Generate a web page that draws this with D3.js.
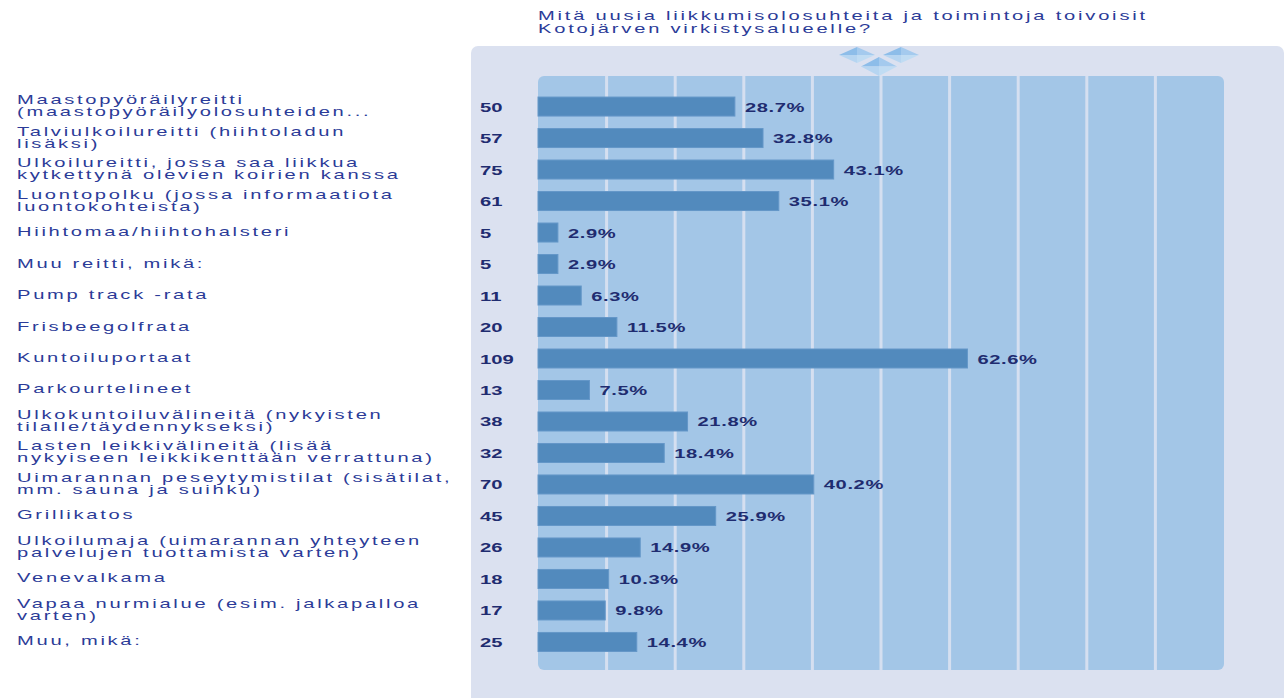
<!DOCTYPE html>
<html>
<head>
<meta charset="utf-8">
<script src="https://cdn.jsdelivr.net/npm/d3@7"></script>
<style>
  html, body { margin: 0; padding: 0; background: #ffffff; }
  svg { display: block; }
</style>
</head>
<body>
<div id="chart"></div>
<script>
// chart data
var titleLines = ['Mitä uusia liikkumisolosuhteita ja toimintoja toivoisit',
                  'Kotojärven virkistysalueelle?'];
var categories = [
  ['Maastopyöräilyreitti', '(maastopyöräilyolosuhteiden...'],
  ['Talviulkoilureitti (hiihtoladun', 'lisäksi)'],
  ['Ulkoilureitti, jossa saa liikkua', 'kytkettynä olevien koirien kanssa'],
  ['Luontopolku (jossa informaatiota', 'luontokohteista)'],
  ['Hiihtomaa/hiihtohalsteri'],
  ['Muu reitti, mikä:'],
  ['Pump track -rata'],
  ['Frisbeegolfrata'],
  ['Kuntoiluportaat'],
  ['Parkourtelineet'],
  ['Ulkokuntoiluvälineitä (nykyisten', 'tilalle/täydennykseksi)'],
  ['Lasten leikkivälineitä (lisää', 'nykyiseen leikkikenttään verrattuna)'],
  ['Uimarannan peseytymistilat (sisätilat,', 'mm. sauna ja suihku)'],
  ['Grillikatos'],
  ['Ulkoilumaja (uimarannan yhteyteen', 'palvelujen tuottamista varten)'],
  ['Venevalkama'],
  ['Vapaa nurmialue (esim. jalkapalloa', 'varten)'],
  ['Muu, mikä:']
];
var counts   = [50, 57, 75, 61, 5, 5, 11, 20, 109, 13, 38, 32, 70, 45, 26, 18, 17, 25];
var percents = [28.7, 32.8, 43.1, 35.1, 2.9, 2.9, 6.3, 11.5, 62.6, 7.5, 21.8, 18.4, 40.2, 25.9, 14.9, 10.3, 9.8, 14.4];

var W = 1288, H = 698;
var STRETCH = 1.55;   // text in the original is drawn wide

var svg = d3.select('#chart').append('svg')
  .attr('width', W).attr('height', H);

var x = d3.scaleLinear().domain([0, 100]).range([538, 1224]);
var y = d3.scaleBand().domain(d3.range(categories.length))
  .range([90.75, 657.75]).paddingInner(0.397).paddingOuter(0.2);

// text helper: wide glyphs via horizontal scale
function wideText(g, tx, ty, str, opt) {
  var t = g.append('g')
    .attr('transform', 'translate(' + tx + ',' + ty + ') scale(' + (opt.sx || STRETCH) + ',1)')
    .append('text')
    .attr('x', 0).attr('y', 0)
    .attr('font-family', 'Liberation Sans, Arial, sans-serif')
    .attr('font-size', opt.size + 'px')
    .attr('font-weight', opt.bold ? 'bold' : 'normal')
    .attr('letter-spacing', (opt.ls || 0) + 'px')
    .attr('fill', opt.color)
    .text(str);
  return t;
}

// outer panel
svg.append('rect')
  .attr('x', 471).attr('y', 46).attr('width', 813 + 20).attr('height', 700)
  .attr('rx', 7).attr('fill', '#dbe1f0');
svg.append('rect')
  .attr('x', 1270).attr('y', 46).attr('width', 30).attr('height', 700)
  .attr('fill', '#ffffff');
svg.append('rect')
  .attr('x', 1250).attr('y', 46).attr('width', 34).attr('height', 700)
  .attr('rx', 7).attr('fill', '#dbe1f0');

// logo diamonds (drawn under the plot area)
var diamonds = [[857, 55, 18, 8], [901, 55, 18, 8], [879, 66.5, 18, 9.5]];
var shades = ['#8dbde9', '#a4caee', '#b6d5f1', '#c0dcf3'];
var lg = svg.append('g');
diamonds.forEach(function (d) {
  var cx = d[0], cy = d[1], hw = d[2], hh = d[3];
  var tris = [
    [[cx - hw, cy], [cx, cy - hh], [cx, cy]],
    [[cx, cy - hh], [cx + hw, cy], [cx, cy]],
    [[cx - hw, cy], [cx, cy + hh], [cx, cy]],
    [[cx + hw, cy], [cx, cy + hh], [cx, cy]]
  ];
  tris.forEach(function (p, i) {
    lg.append('path').attr('d', 'M' + p.join('L') + 'Z').attr('fill', shades[i]);
  });
});

// plot area
svg.append('rect')
  .attr('x', x(0)).attr('y', 76)
  .attr('width', x(100) - x(0)).attr('height', 670 - 76)
  .attr('rx', 6).attr('fill', '#a3c6e7');

svg.append('g').selectAll('line')
  .data(d3.range(10, 100, 10))
  .enter().append('line')
  .attr('x1', function (d) { return x(d); })
  .attr('x2', function (d) { return x(d); })
  .attr('y1', 76).attr('y2', 670)
  .attr('stroke', '#d5dff0').attr('stroke-width', 3);

// bars
svg.append('g').selectAll('rect')
  .data(percents)
  .enter().append('rect')
  .attr('x', x(0))
  .attr('y', function (d, i) { return y(i); })
  .attr('width', function (d) { return x(d) - x(0); })
  .attr('height', y.bandwidth())
  .attr('fill', '#528abd')
  .attr('stroke', '#6497c8').attr('stroke-width', 1);

// title
var tg = svg.append('g');
titleLines.forEach(function (s, i) {
  wideText(tg, 538, 20 + i * 13, s, { size: 13, ls: 1.8, color: '#2b3b98' });
});

// category labels, counts, percents
var lab = svg.append('g');
categories.forEach(function (lines, i) {
  var c = y(i) + y.bandwidth() / 2;
  if (lines.length === 1) {
    wideText(lab, 17, c + 3.5, lines[0], { size: 13, ls: 1.75, color: '#2b3b98' });
  } else {
    wideText(lab, 17, c - 2.5, lines[0], { size: 13, ls: 1.75, color: '#2b3b98' });
    wideText(lab, 17, c + 9.5, lines[1], { size: 13, ls: 1.75, color: '#2b3b98' });
  }
  wideText(lab, 480, c + 5, String(counts[i]), { size: 13.5, bold: true, sx: 1.5, color: '#1f2c70' });
  wideText(lab, x(percents[i]) + 10, c + 5, percents[i].toFixed(1) + '%',
    { size: 13, bold: true, ls: 0.4, color: '#1f2c70' });
});
</script>
</body>
</html>
